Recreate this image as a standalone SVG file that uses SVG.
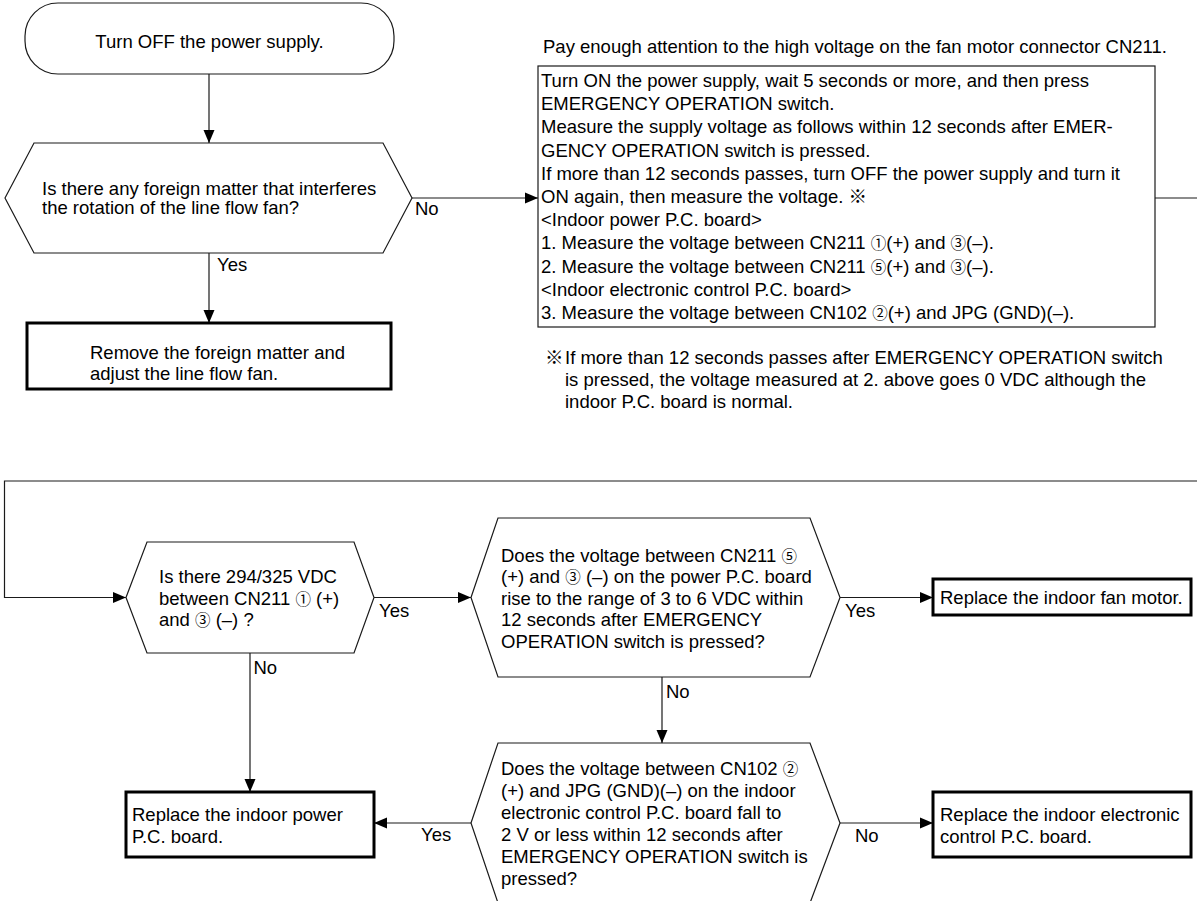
<svg xmlns="http://www.w3.org/2000/svg" width="1197" height="901" viewBox="0 0 1197 901">
<style>
text{font-family:"Liberation Sans",Arial,"Noto Sans CJK JP",sans-serif;font-size:18.5px;fill:#000}
.d{font-size:15.5px}
.s{fill:#fff;stroke:#1a1a1a;stroke-width:1.2}
.r{fill:#fff;stroke:#000;stroke-width:3}
.c{fill:none;stroke:#1a1a1a;stroke-width:1.2}
</style>
<defs>
<marker id="ah" markerWidth="14" markerHeight="12" refX="13" refY="6" orient="auto" markerUnits="userSpaceOnUse"><path d="M0,0.5 L13,6 L0,11.5 z" fill="#000"/></marker>
</defs>
<g id="connectors">
<path class="c" d="M209,74 V143" marker-end="url(#ah)"/>
<path class="c" d="M412,198 H538" marker-end="url(#ah)"/>
<path class="c" d="M209,253 V323" marker-end="url(#ah)"/>
<path class="c" d="M1155,198 H1197"/>
<path class="c" d="M1197,481 H4.5 V597.5 H126" marker-end="url(#ah)"/>
<path class="c" d="M374,597.5 H471" marker-end="url(#ah)"/>
<path class="c" d="M840,597.5 H933" marker-end="url(#ah)"/>
<path class="c" d="M662,677 V743" marker-end="url(#ah)"/>
<path class="c" d="M250,653 V792" marker-end="url(#ah)"/>
<path class="c" d="M471,823 H374" marker-end="url(#ah)"/>
<path class="c" d="M840,823 H933" marker-end="url(#ah)"/>
<text x="415" y="215">No</text>
<text x="217" y="271">Yes</text>
<text x="379" y="616.5">Yes</text>
<text x="845" y="616.5">Yes</text>
<text x="253.5" y="674">No</text>
<text x="666" y="698">No</text>
<text x="421" y="840.5">Yes</text>
<text x="855" y="841.5">No</text>
</g>
<g id="start">
<rect class="s" x="25" y="3" width="369" height="71" rx="33"/>
<text x="209.5" y="47.5" text-anchor="middle">Turn OFF the power supply.</text>
</g>
<g id="q-foreign">
<polygon class="s" points="5,198 34,143 383,143 412,198 383,253 34,253"/>
<text x="42" y="194.5">Is there any foreign matter that interferes</text>
<text x="42" y="214">the rotation of the line flow fan?</text>
</g>
<g id="remove">
<rect class="r" x="27" y="323" width="364" height="66"/>
<text x="90" y="359">Remove the foreign matter and</text>
<text x="90" y="380">adjust the line flow fan.</text>
</g>
<g id="caution">
<text x="543" y="53">Pay enough attention to the high voltage on the fan motor connector CN211.</text>
</g>
<g id="measure">
<rect class="s" x="538" y="66" width="617" height="261"/>
<text x="541" y="87">Turn ON the power supply, wait 5 seconds or more, and then press</text>
<text x="541" y="110.2">EMERGENCY OPERATION switch.</text>
<text x="541" y="133.4">Measure the supply voltage as follows within 12 seconds after EMER-</text>
<text x="541" y="156.6">GENCY OPERATION switch is pressed.</text>
<text x="541" y="179.8">If more than 12 seconds passes, turn OFF the power supply and turn it</text>
<text x="541" y="203">ON again, then measure the voltage. ※</text>
<text x="541" y="226.2">&lt;Indoor power P.C. board&gt;</text>
<text x="541" y="249.4">1. Measure the voltage between CN211 <tspan class="d">①</tspan>(+) and <tspan class="d">③</tspan>(–).</text>
<text x="541" y="272.6">2. Measure the voltage between CN211 <tspan class="d">⑤</tspan>(+) and <tspan class="d">③</tspan>(–).</text>
<text x="541" y="295.8">&lt;Indoor electronic control P.C. board&gt;</text>
<text x="541" y="319">3. Measure the voltage between CN102 <tspan class="d">②</tspan>(+) and JPG (GND)(–).</text>
</g>
<g id="note">
<text x="545" y="364">※</text>
<text x="565" y="364">If more than 12 seconds passes after EMERGENCY OPERATION switch</text>
<text x="565" y="386">is pressed, the voltage measured at 2. above goes 0 VDC although the</text>
<text x="565" y="408">indoor P.C. board is normal.</text>
</g>
<g id="q-294">
<polygon class="s" points="126,597.5 147,542 354,542 374,597.5 354,653 147,653"/>
<text x="159" y="583">Is there 294/325 VDC</text>
<text x="159" y="604.5">between CN211 <tspan class="d">①</tspan> (+)</text>
<text x="159" y="626">and <tspan class="d">③</tspan> (–) ?</text>
</g>
<g id="q-cn211-5">
<polygon class="s" points="471,597.5 498,518 810,518 840,597.5 810,677 498,677"/>
<text x="501" y="561.5">Does the voltage between CN211 <tspan class="d">⑤</tspan></text>
<text x="501" y="583">(+) and <tspan class="d">③</tspan> (–) on the power P.C. board</text>
<text x="501" y="604.5">rise to the range of 3 to 6 VDC within</text>
<text x="501" y="626">12 seconds after EMERGENCY</text>
<text x="501" y="647.5">OPERATION switch is pressed?</text>
</g>
<g id="fan-motor">
<rect class="r" x="933" y="579" width="258" height="36"/>
<text x="940" y="604">Replace the indoor fan motor.</text>
</g>
<g id="q-cn102">
<polygon class="s" points="471,823 498,743 810,743 840,823 810,903 498,903"/>
<text x="501" y="774.5">Does the voltage between CN102 <tspan class="d">②</tspan></text>
<text x="501" y="796.5">(+) and JPG (GND)(–) on the indoor</text>
<text x="501" y="818.5">electronic control P.C. board fall to</text>
<text x="501" y="840.5">2 V or less within 12 seconds after</text>
<text x="501" y="862.5">EMERGENCY OPERATION switch is</text>
<text x="501" y="884.5">pressed?</text>
</g>
<g id="power-board">
<rect class="r" x="126" y="792" width="248" height="65"/>
<text x="132" y="821">Replace the indoor power</text>
<text x="132" y="842.5">P.C. board.</text>
</g>
<g id="control-board">
<rect class="r" x="933" y="792" width="258" height="65"/>
<text x="940" y="821">Replace the indoor electronic</text>
<text x="940" y="842.5">control P.C. board.</text>
</g>
</svg>
